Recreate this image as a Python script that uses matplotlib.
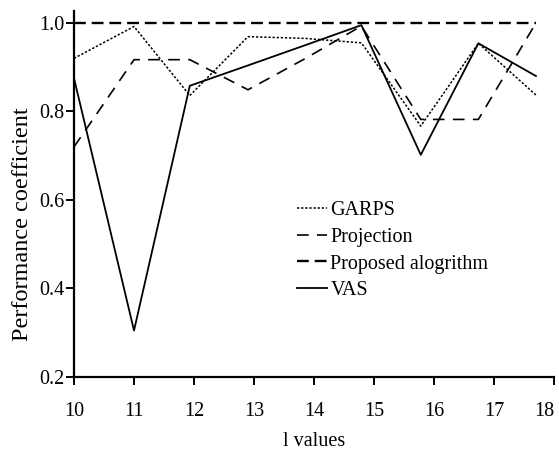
import numpy as np
import matplotlib
matplotlib.use("Agg")
import matplotlib.pyplot as plt

plt.rcParams['font.family'] = ['Liberation Serif', 'DejaVu Serif']

# data (points sit slightly left of the integer ticks)
l_values = [10, 11, 11.93, 12.9, 13.86, 14.79, 15.78, 16.74, 17.7]
garps = [0.92, 0.992, 0.836, 0.969, 0.965, 0.955, 0.767, 0.954, 0.837]
projection = [0.72, 0.917, 0.917, 0.849, 0.92, 0.993, 0.782, 0.782, 1.0]
proposed = [1.0, 1.0, 1.0, 1.0, 1.0, 1.0, 1.0, 1.0, 1.0]
vas = [0.875, 0.305, 0.858, 0.904, 0.95, 0.995, 0.702, 0.954, 0.880]

xticks = [10, 11, 12, 13, 14, 15, 16, 17, 18]
yticks = [0.2, 0.4, 0.6, 0.8, 1.0]

fig = plt.figure(figsize=(5.59, 4.54), dpi=100)
ax = fig.add_axes([0.1324, 0.1696, 0.8586, 0.8062])

ax.plot(l_values, garps, color="black", lw=1.1, linestyle=(0, (1.5, 1.2)), label="GARPS")
ax.plot(l_values, projection, color="black", lw=1.2, linestyle=(0, (7, 5)), label="Projection")
ax.plot(l_values, proposed, color="black", lw=1.7, linestyle=(0, (5, 2.5)), label="Proposed alogrithm")
ax.plot(l_values, vas, color="black", lw=1.3, linestyle="-", label="VAS")

ax.set_xlim(10, 18)
ax.set_ylim(0.2, 1.027)
ax.set_xticks(xticks)
ax.set_yticks(yticks)
ax.set_xticklabels([str(x) for x in xticks])
ax.set_yticklabels([f"{y:.1f}" for y in yticks])
ax.get_xticklabels()[-1].set_horizontalalignment("right")

for side in ["top", "right"]:
    ax.spines[side].set_visible(False)
for side in ["left", "bottom"]:
    ax.spines[side].set_linewidth(1.6)
ax.tick_params(direction="out", length=6, width=1.4, labelsize=14.5)
ax.tick_params(axis="x", pad=12)
ax.tick_params(axis="y", pad=1)

ax.set_xlabel("l values", fontsize=14.5)
ax.xaxis.set_label_coords(0.5, -0.15)
ax.set_ylabel("Performance coefficient", fontsize=17.5)
ax.yaxis.set_label_coords(-0.086, 0.418)

leg = ax.legend(loc="upper left", bbox_to_anchor=(0.465, 0.48), frameon=False,
                fontsize=14.5, handlelength=1.5, handletextpad=0.15,
                labelspacing=0.37, borderaxespad=0, borderpad=0)

fig.savefig("out.png", dpi=100)
